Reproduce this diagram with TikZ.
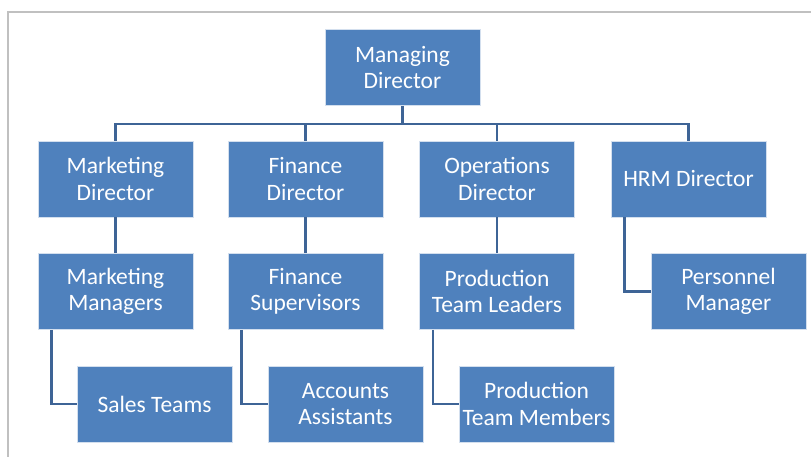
\documentclass[tikz,border=0pt]{standalone}
\usepackage{fontspec}
\setmainfont{Carlito}
\definecolor{boxblue}{RGB}{79,129,189}
\definecolor{linkblue}{RGB}{62,100,150}
\definecolor{frame}{RGB}{192,192,192}
\tikzset{
  orgbox/.style={rectangle, fill=boxblue, draw=white!75!boxblue, line width=0.8pt,
    minimum width=155pt, minimum height=76pt, inner sep=0pt, align=center,
    text=white, font=\fontsize{23.5}{26.5}\selectfont},
  link/.style={draw=linkblue, line width=2.4pt}
}
\begin{document}
\begin{tikzpicture}[x=1pt,y=-1pt]
\useasboundingbox (0,0) rectangle (811,457);
\draw[frame, line width=2pt] (8,457) -- (8,12.5) -- (811,12.5);
\node[orgbox] (md) at (402.5,67.5) {Managing\\Director};
\node[orgbox] (mkt) at (115.5,179) {Marketing\\Director};
\node[orgbox] (fin) at (305.5,179) {Finance\\Director};
\node[orgbox] (ops) at (497,179) {Operations\\Director};
\node[orgbox] (hrm) at (688.5,179) {HRM Director};
\node[orgbox] (mm) at (115.5,291.5) {Marketing\\Managers};
\node[orgbox] (fs) at (305.5,291.5) {Finance\\Supervisors};
\node[orgbox] (ptl) at (497,291.5) {Production\\Team Leaders};
\node[orgbox] (pm) at (728.5,291.5) {Personnel\\Manager};
\node[orgbox] (st) at (154.5,404) {Sales Teams};
\node[orgbox] (aa) at (345.5,404) {Accounts\\Assistants};
\node[orgbox] (ptm) at (536.5,404) {Production\\Team Members};
\coordinate (bus) at (402.5,124);
\draw[link] (md.south) -- (bus) -| (mkt.north);
\draw[link] (bus) -| (fin.north);
\draw[link] (bus) -| (ops.north);
\draw[link] (bus) -| (hrm.north);
\draw[link] (mkt.south) -- (mm.north);
\draw[link] (fin.south) -- (fs.north);
\draw[link] (ops.south) -- (ptl.north);
\draw[link] ([xshift=14pt]hrm.south west) |- (pm.west);
\draw[link] ([xshift=14pt]mm.south west) |- (st.west);
\draw[link] ([xshift=14pt]fs.south west) |- (aa.west);
\draw[link] ([xshift=14pt]ptl.south west) |- (ptm.west);
\end{tikzpicture}
\end{document}
